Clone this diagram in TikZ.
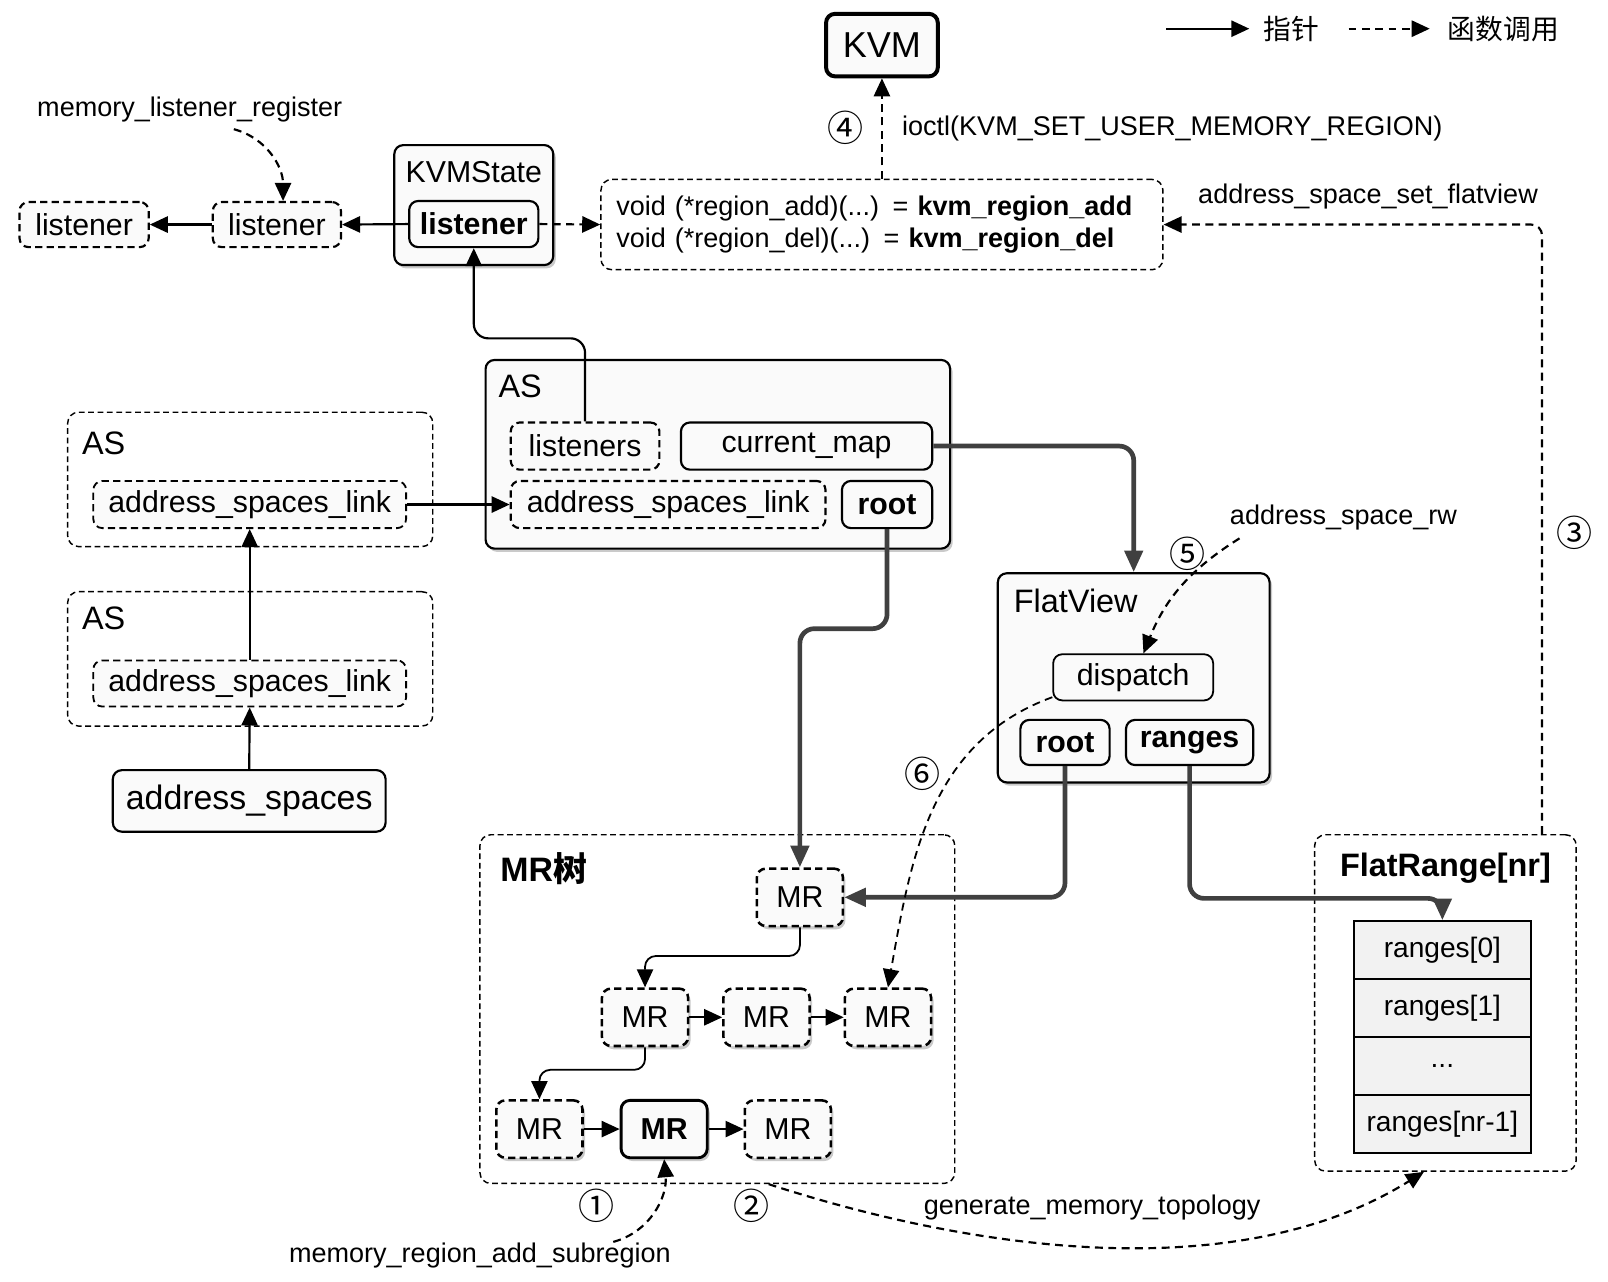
\documentclass[tikz,border=0pt]{standalone}
\usepackage{fontspec}
\setmainfont{Liberation Sans}
\newfontfamily\cjkfont{Noto Sans CJK SC}
\usetikzlibrary{arrows.meta,positioning,shadows,calc}
\definecolor{boxfill}{HTML}{FAFAFA}
\definecolor{cellfill}{HTML}{F2F2F2}
\definecolor{fatcol}{HTML}{404040}
\newcommand{\fmain}{\fontsize{8.4pt}{10pt}\selectfont}
\newcommand{\fsmall}{\fontsize{7.5pt}{8.8pt}\selectfont}
\newcommand{\ftitle}{\fontsize{9pt}{11pt}\selectfont}
\newcommand{\fbig}{\fontsize{9.4pt}{11pt}\selectfont}
\newcommand{\fcell}{\fontsize{7.8pt}{9pt}\selectfont}

\begin{document}
\begin{tikzpicture}[x=0.1mm, y=-0.1mm,
  every node/.style={font=\fmain, inner sep=0pt},
  box/.style={draw, rounded corners=2.5pt, fill=boxfill, line width=0.6pt},
  dbox/.style={box, dash pattern=on 2pt off 1.2pt},
  frame/.style={draw, rounded corners=3pt, dash pattern=on 1.6pt off 1pt, line width=0.4pt},
  shade/.style={drop shadow={shadow xshift=0.7pt, shadow yshift=-0.9pt, fill=black!60, opacity=0.35}},
  ptr/.style={-{Triangle[length=5pt,width=4.5pt]}, line width=0.6pt},
  fat/.style={-{Triangle[length=6pt,width=5pt]}, line width=1.3pt, draw=fatcol, rounded corners=4pt},
  call/.style={-{Triangle[length=5pt,width=4.5pt]}, dash pattern=on 2.2pt off 1.5pt, line width=0.6pt},
  lbl/.style={font=\fsmall},
  num/.style={font=\cjkfont\fontsize{10pt}{10pt}\selectfont},
  mrbox/.style={dbox, shade, line width=0.7pt, minimum width=8.4mm, minimum height=5.6mm},
  cell/.style={draw, fill=cellfill, line width=0.5pt, font=\fcell, minimum width=17.3mm, minimum height=5.65mm},
]
\useasboundingbox (0,0) rectangle (1568,1250);

% ---------------------------------------------------------------- legend
\coordinate (lgp) at (1137,28);
\node[font=\cjkfont\fontsize{7.7pt}{9pt}\selectfont] (lgptxt) at (1259,28) {指针};
\draw[ptr] (lgp) -- ([xshift=-1.3mm]lgptxt.west);
\coordinate (lgc) at (1315,28);
\node[font=\cjkfont\fontsize{7.7pt}{9pt}\selectfont] (lgctxt) at (1466,28) {函数调用};
\draw[call] (lgc) -- ([xshift=-1.7mm]lgctxt.west);

% ------------------------------------------------------- KVM and listeners
\node[box, line width=1.1pt, minimum width=10.9mm, minimum height=6.1mm,
  font=\fontsize{10pt}{12pt}\selectfont] (kvm) at (860,44) {KVM};

\node[dbox, minimum width=12.6mm, minimum height=4.4mm] (lst1) at (82,219) {listener};
\node[dbox, minimum width=12.5mm, minimum height=4.4mm] (lst2) at (270,219) {listener};

\node[box, shade, minimum width=15.5mm, minimum height=11.7mm] (kvms) at (462,200) {};
\node (kvmsname) at ([yshift=-2.7mm]kvms.north) {KVMState};
\node[box, font=\bfseries\fmain, minimum width=12.6mm, minimum height=4.5mm] (kls) at (462,218.5) {listener};

\node[frame, minimum height=8.8mm, text width=51.8mm, align=left, inner xsep=1.5mm,
  font=\fsmall] (func) at (860,219)
  {void (*region\_add)(...) = \textbf{kvm\_region\_add}\\
   void (*region\_del)(...) = \textbf{kvm\_region\_del}};

\node[lbl] (mlr) at (185,107) {memory\_listener\_register};
\node[num] (n4) at (824,125) {④};
\node[lbl, anchor=west] (ioctl) at (879,125) {ioctl(KVM\_SET\_USER\_MEMORY\_REGION)};
\node[lbl] (asf) at (1334,192) {address\_space\_set\_flatview};

% ------------------------------------------------------------ address spaces
\node[box, shade, minimum width=45.3mm, minimum height=18.4mm] (asm) at (700,443) {};
\node[anchor=west, font=\ftitle] (asmname) at ([xshift=1.3mm, yshift=-2.7mm]asm.north west) {AS};
\node[dbox, minimum width=14.5mm, minimum height=4.6mm] (lsn) at (570.5,435) {listeners};
\node[box, minimum width=24.5mm, minimum height=4.6mm] (cmap) at (786.5,435) {current\_map};
\node[dbox, minimum width=30.7mm, minimum height=4.6mm] (aslk) at (651.5,492) {address\_spaces\_link};
\node[box, font=\bfseries\fmain, minimum width=8.8mm, minimum height=4.6mm] (asroot) at (865,492) {root};

\node[frame, minimum width=35.6mm, minimum height=13.1mm] (as1) at (244,467.5) {};
\node[anchor=west, font=\ftitle] (as1name) at ([xshift=1.4mm, yshift=-3.1mm]as1.north west) {AS};
\node[dbox, line width=0.5pt, minimum width=30.5mm, minimum height=4.6mm] (lk1) at (243.5,492) {address\_spaces\_link};

\node[frame, minimum width=35.6mm, minimum height=13.1mm] (as2) at (244,642.5) {};
\node[anchor=west, font=\ftitle] (as2name) at ([xshift=1.4mm, yshift=-2.7mm]as2.north west) {AS};
\node[dbox, line width=0.5pt, minimum width=30.5mm, minimum height=4.5mm] (lk2) at (243.5,666.5) {address\_spaces\_link};

\node[box, font=\fbig, minimum width=26.6mm, minimum height=6mm] (asps) at (243,781) {address\_spaces};

% ------------------------------------------------------------------ FlatView
\node[box, shade, minimum width=26.5mm, minimum height=20.4mm] (fv) at (1105.5,661) {};
\node[anchor=west, font=\ftitle] (fvname) at ([xshift=1.6mm, yshift=-2.8mm]fv.north west) {FlatView};
\node[box, line width=0.5pt, minimum width=15.6mm, minimum height=4.5mm] (disp) at (1105,660.5) {dispatch};
\node[box, font=\bfseries\fmain, minimum width=8.7mm, minimum height=4.4mm] (fvroot) at (1038.5,724) {root};
\node[box, font=\bfseries\fmain, minimum width=12.4mm, minimum height=4.4mm] (fvrng) at (1160,724) {ranges};

\node[lbl] (asrw) at (1310,505) {address\_space\_rw};
\node[num] (n5) at (1158,540) {⑤};
\node[num] (n3) at (1535,520) {③};
\node[num] (n6) at (900,755) {⑥};

% ------------------------------------------------------------------- MR tree
\node[frame, minimum width=46.3mm, minimum height=34mm] (mrt) at (699.5,984) {};
\node[anchor=west, font=\bfseries\fbig] (mrtname) at ([xshift=2mm, yshift=-3.4mm]mrt.north west) {MR{\cjkfont 树}};

\node[mrbox] (mr0) at (780,875) {MR};
\node[mrbox] (mr1) at (629,992) {MR};
\node[mrbox, right=3.2mm of mr1] (mr2) {MR};
\node[mrbox, right=3.2mm of mr2] (mr3) {MR};
\node[mrbox] (mr4) at (526,1101) {MR};
\node[box, shade, line width=0.8pt, font=\bfseries\fmain, minimum width=8.4mm, minimum height=5.6mm,
  right=3.5mm of mr4] (mr5) {MR};
\node[mrbox, right=3.4mm of mr5] (mr6) {MR};

\node[num] (n1) at (582,1176) {①};
\node[num] (n2) at (733,1176) {②};
\node[lbl] (mras) at (468,1224) {memory\_region\_add\_subregion};
\node[lbl] (gmt) at (1065,1177) {generate\_memory\_topology};

% ----------------------------------------------------------------- FlatRange
\node[frame, minimum width=25.5mm, minimum height=32.8mm] (fr) at (1409.5,978) {};
\node[font=\bfseries\ftitle] (frname) at ([yshift=-3.3mm]fr.north) {FlatRange[nr]};
\foreach \i/\txt in {0/{ranges[0]}, 1/{ranges[1]}, 2/{...}, 3/{ranges[nr-1]}}
  \node[cell] (r\i) at (1406.5,{926.5+56.5*\i}) {\txt};

% ---------------------------------------------------------------- connectors
\draw[ptr] (lst2.west) -- (lst1.east);
\draw[ptr] (kls.west) -- (lst2.east);
\draw[call] ([xshift=4.3mm, yshift=-0.6mm]mlr.south) to[out=-15, in=90] ([xshift=0.6mm]lst2.north);
\draw[call] (kls.east) -- (func.west);
\draw[call] (func.north) -- (kvm.south);
\draw[call, rounded corners=3pt] ([xshift=-3.4mm]fr.north east) |- (func.east);
\draw[ptr, rounded corners=4pt] (lsn.north) -- ++(0,-81) -| (kls.south);

\draw[ptr] (lk1.east) -- (aslk.west);
\draw[ptr] (lk2.north) -- (lk1.south);
\draw[ptr] (asps.north) -- (lk2.south);

\draw[fat] (cmap.east) -| (fv.north);
\draw[fat] (asroot.south) -- ++(0,97) -| (mr0.north);
\draw[fat] (fvroot.south) |- (mr0.east);
\draw[fat] (fvrng.south) -- ++(0,129) -| (r0.north);

\draw[ptr, line width=0.5pt, rounded corners=3pt] (mr0.south) -- ++(0,28) -| (mr1.north);
\draw[ptr, line width=0.5pt] (mr1.east) -- (mr2.west);
\draw[ptr, line width=0.5pt] (mr2.east) -- (mr3.west);
\draw[ptr, line width=0.5pt, rounded corners=3pt] (mr1.south) -- ++(0,22) -| (mr4.north);
\draw[ptr, line width=0.5pt] (mr4.east) -- (mr5.west);
\draw[ptr, line width=0.5pt] (mr5.east) -- (mr6.west);

\draw[call] ([xshift=1mm, yshift=-0.7mm]asrw.south west) to[out=212, in=68] ([xshift=1mm]disp.north);
\draw[call, line width=0.5pt] ([yshift=0.4mm]disp.south west) to[out=200, in=80] (mr3.north);
\draw[call] ([xshift=13mm]mras.north) to[out=15, in=-85] (mr5.south);
\draw[call] ([xshift=5mm]mrt.south) to[out=-18, in=-148, looseness=0.85] ([xshift=-2.1mm]fr.south);

\end{tikzpicture}
\end{document}
